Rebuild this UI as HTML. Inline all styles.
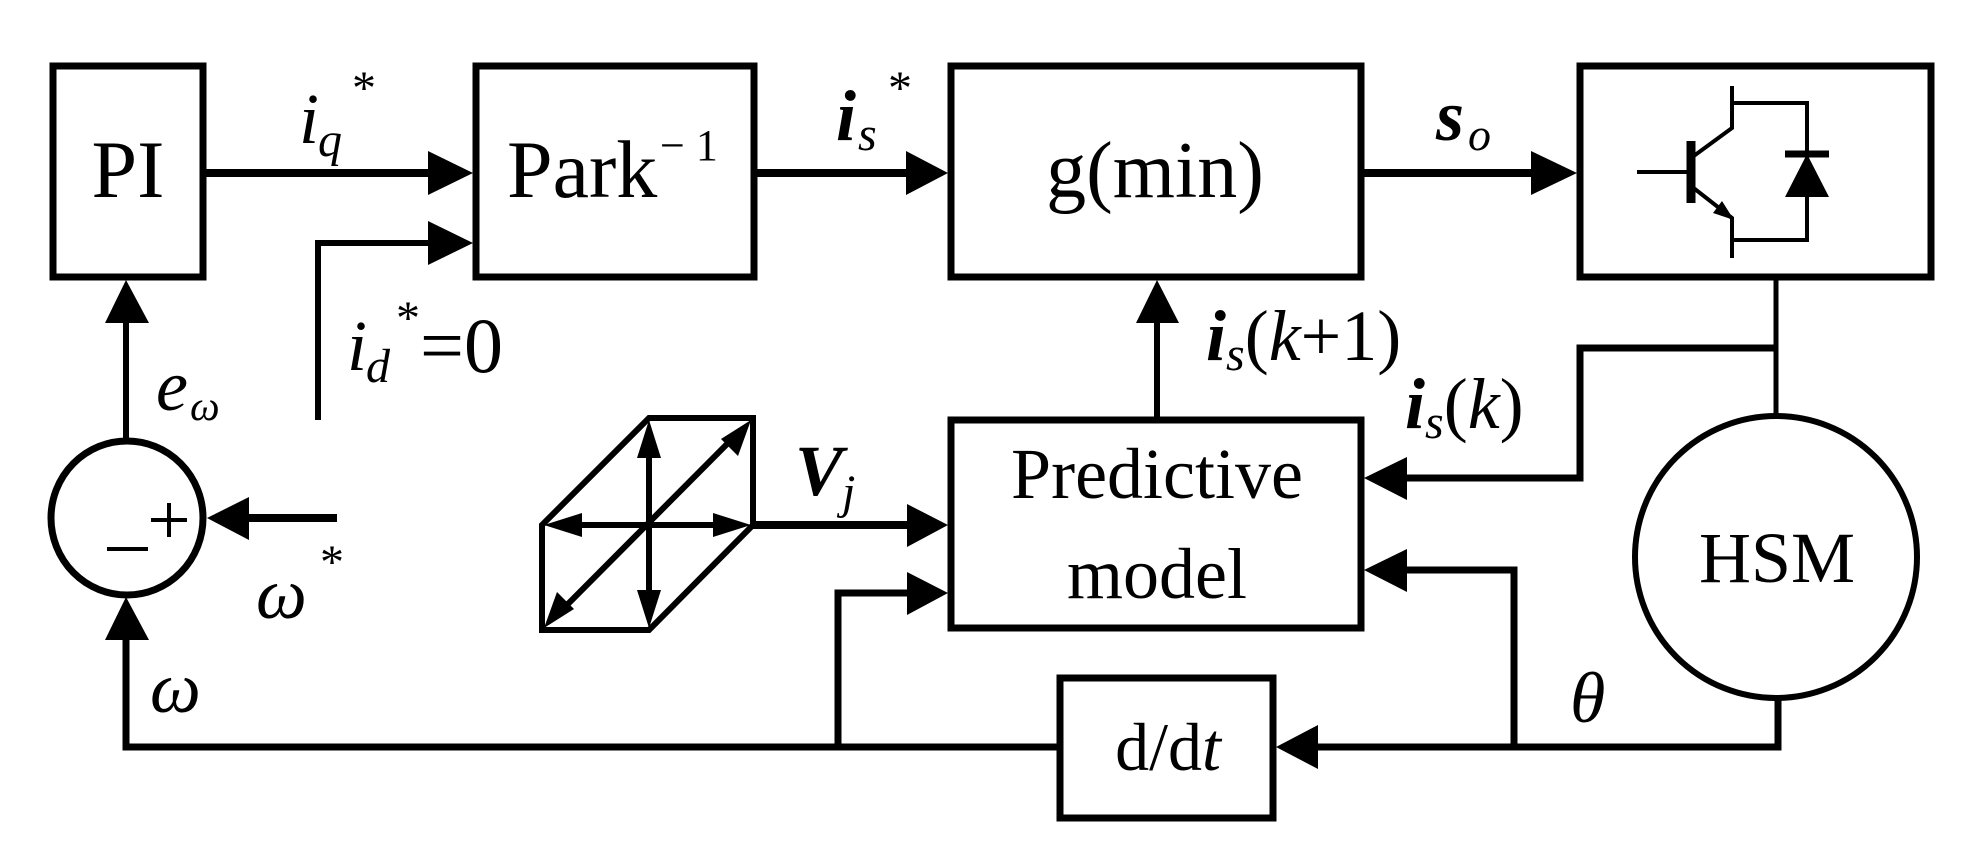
<!DOCTYPE html>
<html><head><meta charset="utf-8"><style>
html,body{margin:0;padding:0;background:#fff;}
svg{display:block;}
text{font-family:"Liberation Serif",serif;fill:#000;}
.it{font-style:italic;}
.bi{font-style:italic;font-weight:bold;}
</style></head><body>
<svg width="1976" height="861" viewBox="0 0 1976 861" xmlns="http://www.w3.org/2000/svg">
<g fill="none" stroke="#000" stroke-width="7">
<rect x="53" y="66" width="150" height="211"/>
<rect x="476" y="66" width="278" height="211"/>
<rect x="951" y="66" width="410" height="211"/>
<rect x="1580" y="66" width="351" height="211"/>
<rect x="951" y="420" width="410" height="208"/>
<rect x="1060" y="678" width="213" height="140"/>
<ellipse cx="127" cy="518" rx="76" ry="77"/>
<circle cx="1776" cy="557" r="141" stroke-width="6"/>
</g>
<g fill="none" stroke="#000" stroke-width="8">
<line x1="203" y1="173" x2="430" y2="173"/>
<polyline points="318,420 318,243 430,243" stroke-width="6"/>
<line x1="754" y1="173" x2="909" y2="173"/>
<line x1="1361" y1="173" x2="1532" y2="173"/>
<line x1="126" y1="440" x2="126" y2="320" stroke-width="6"/>
<line x1="247" y1="518" x2="337" y2="518"/>
<polyline points="126,640 126,747 1060,747" stroke-width="7"/>
<polyline points="838,747 838,593 909,593" stroke-width="7"/>
<line x1="753" y1="525" x2="909" y2="525"/>
<line x1="1157" y1="420" x2="1157" y2="320" stroke-width="6"/>
<line x1="1776" y1="277" x2="1776" y2="416" stroke-width="5"/>
<polyline points="1776,348 1580,348 1580,478 1405,478" stroke-width="7"/>
<polyline points="1778,698 1778,747 1316,747" stroke-width="7"/>
<polyline points="1514,747 1514,570 1405,570" stroke-width="7"/>
</g>
<g fill="#000">
<polygon points="473,173 428,151 428,195"/>
<polygon points="473,243 428,221 428,265"/>
<polygon points="948,173 906,151 906,195"/>
<polygon points="1577,173 1531,151 1531,195"/>
<polygon points="126,280 105,323 149,323"/>
<polygon points="1157,280 1136,323 1179,323"/>
<polygon points="207,518 249,497 249,540"/>
<polygon points="126,597 105,640 149,640"/>
<polygon points="948,525 907,504 907,547"/>
<polygon points="948,593 907,572 907,615"/>
<polygon points="1364,478 1407,457 1407,500"/>
<polygon points="1364,570 1407,549 1407,592"/>
<polygon points="1276,747 1318,725 1318,769"/>
</g>
<!-- sum signs -->
<g stroke="#000" stroke-width="4" fill="none">
<line x1="151" y1="520" x2="187" y2="520"/>
<line x1="169" y1="503" x2="169" y2="537"/>
<line x1="107" y1="549" x2="148" y2="549"/>
</g>
<g fill="none" stroke="#000" stroke-width="6">
<polygon points="542,525 649,418 753,418 753,525 649,630 542,630"/>
<line x1="649" y1="440" x2="649" y2="608"/>
<line x1="564" y1="525" x2="731" y2="525"/>
<line x1="738" y1="433" x2="557" y2="615"/>
</g>
<g fill="#000">
<polygon points="649,420 637,458 661,458"/>
<polygon points="649,628 637,590 661,590"/>
<polygon points="544,525 582,513 582,537"/>
<polygon points="751,525 713,513 713,537"/>
<polygon points="751,420 738,456 721,439"/>
<polygon points="544,628 557,592 574,609"/>
</g>
<g fill="none" stroke="#000" stroke-width="4">
<line x1="1637" y1="172" x2="1691" y2="172"/>
<line x1="1691" y1="141" x2="1691" y2="203" stroke-width="9"/>
<polyline points="1691,158 1732,128 1732,86"/>
<polyline points="1732,103 1807,103 1807,240 1732,240"/>
<polyline points="1691,186 1732,218 1732,258"/>
<line x1="1785" y1="154" x2="1829" y2="154" stroke-width="7"/>
</g>
<polygon points="1807,154 1785,197 1829,197" fill="#000"/>
<polygon points="1734,220 1713,213 1722,201" fill="#000"/>
<text x="128" y="197" font-size="82" text-anchor="middle">PI</text>
<text x="507" y="197" font-size="82">Park</text>
<text x="660" y="160" font-size="44">− 1</text>
<text x="1155" y="197" font-size="80" text-anchor="middle">g(min)</text>
<text x="1157" y="498" font-size="72" text-anchor="middle">Predictive</text>
<text x="1157" y="598" font-size="72" text-anchor="middle">model</text>
<text x="1777" y="582" font-size="72" text-anchor="middle">HSM</text>
<text x="1168" y="770" font-size="68" text-anchor="middle">d/d<tspan class="it">t</tspan></text>
<text x="299" y="143" font-size="72" class="it">i</text>
<text x="318" y="156" font-size="48" class="it">q</text>
<text x="352" y="104" font-size="48">*</text>
<text x="836" y="140" font-size="72" class="bi">i</text>
<text x="858" y="150" font-size="48" class="it">s</text>
<text x="888" y="104" font-size="48">*</text>
<text x="347" y="370" font-size="72" class="it">i</text>
<text x="366" y="382" font-size="48" class="it">d</text>
<text x="396" y="334" font-size="48">*</text>
<text x="420" y="372" font-size="78">=0</text>
<text x="156" y="410" font-size="72" class="it">e</text>
<text x="190" y="420" font-size="42" class="it">ω</text>
<text x="1436" y="140" font-size="72" class="bi">s</text>
<text x="1468" y="150" font-size="46" class="it">o</text>
<text x="1206" y="360" font-size="72"><tspan class="bi">i</tspan><tspan class="it" font-size="48" dy="10">s</tspan><tspan dy="-10">(</tspan><tspan class="it">k</tspan>+1)</text>
<text x="1405" y="428" font-size="72"><tspan class="bi">i</tspan><tspan class="it" font-size="48" dy="10">s</tspan><tspan dy="-10">(</tspan><tspan class="it">k</tspan>)</text>
<text x="795" y="495" font-size="72" class="bi">V</text>
<text x="842" y="508" font-size="48" class="it">j</text>
<text x="256" y="618" font-size="72" class="it">ω</text>
<text x="320" y="578" font-size="48">*</text>
<text x="150" y="712" font-size="72" class="it">ω</text>
<text x="1570" y="722" font-size="72" class="it">θ</text>
</svg>
</body></html>
